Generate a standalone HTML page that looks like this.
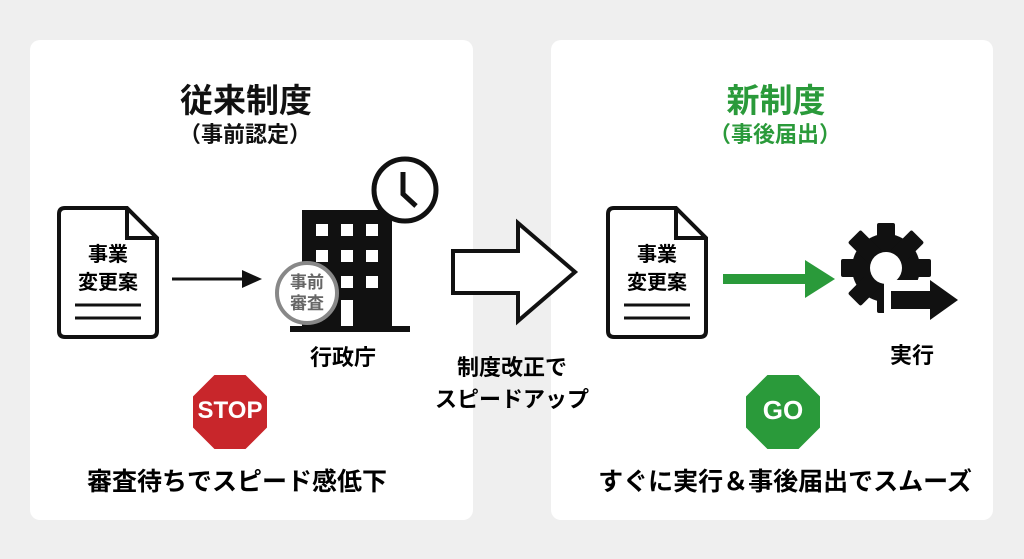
<!DOCTYPE html>
<html><head><meta charset="utf-8"><style>
body{margin:0;width:1024px;height:559px;background:#efefef;font-family:"Liberation Sans","Noto Sans CJK JP",sans-serif;overflow:hidden;position:relative}
.p{position:absolute;background:#fff;border-radius:10px;top:40px;height:480px}
.t{position:absolute;font-weight:bold;text-align:center;white-space:nowrap;transform:translateX(-50%)}
</style></head><body>
<div class="p" style="left:30px;width:443px"></div>
<div class="p" style="left:551px;width:442px"></div>
<div class="t" style="left:246px;top:74px;font-size:33px;color:#111">従来制度</div>
<div class="t" style="left:245px;top:117px;font-size:22px;color:#111">（事前認定）</div>
<div class="t" style="left:776px;top:74px;font-size:33px;color:#2a9a3a">新制度</div>
<div class="t" style="left:775px;top:117px;font-size:22px;color:#2a9a3a">（事後届出）</div>
<svg width="1024" height="559" style="position:absolute;left:0;top:0">
<defs>
<g id="doc"><path d="M0 6 Q0 0 6 0 H68 L98 30 V123 Q98 129 92 129 H6 Q0 129 0 123Z" fill="#fff" stroke="#111" stroke-width="4"/><path d="M68 0 V30 H98" fill="none" stroke="#111" stroke-width="4"/><line x1="16" y1="97" x2="82" y2="97" stroke="#111" stroke-width="3"/><line x1="16" y1="110" x2="82" y2="110" stroke="#111" stroke-width="3"/></g>
</defs>
<use href="#doc" x="59" y="208"/>
<use href="#doc" x="608" y="208"/>
<line x1="172" y1="279" x2="245" y2="279" stroke="#111" stroke-width="3"/>
<polygon points="242,270 262,279 242,288" fill="#111"/>
<rect x="302" y="210" width="90" height="120" fill="#111"/>
<rect x="290" y="326" width="120" height="6" fill="#111"/>
<g fill="#fff">
<rect x="316" y="224" width="12" height="12"/><rect x="341" y="224" width="12" height="12"/><rect x="366" y="224" width="12" height="12"/>
<rect x="316" y="250" width="12" height="12"/><rect x="341" y="250" width="12" height="12"/><rect x="366" y="250" width="12" height="12"/>
<rect x="341" y="276" width="12" height="12"/><rect x="366" y="276" width="12" height="12"/>
<rect x="341" y="300" width="12" height="26"/>
</g>
<circle cx="405" cy="190" r="31" fill="#fff" stroke="#111" stroke-width="5"/>
<polyline points="403,172 403,194 416,206" fill="none" stroke="#111" stroke-width="5"/>
<circle cx="307" cy="293" r="30" fill="#fff" stroke="#888" stroke-width="4"/>
<text x="307" y="288" font-size="17" font-weight="bold" fill="#666" text-anchor="middle" font-family="Noto Sans CJK JP">事前</text>
<text x="307" y="309" font-size="17" font-weight="bold" fill="#666" text-anchor="middle" font-family="Noto Sans CJK JP">審査</text>
<polygon points="453,251 518,251 518,223 575,272 518,321 518,293 453,293" fill="#fff" stroke="#111" stroke-width="4"/>
<line x1="723" y1="279" x2="808" y2="279" stroke="#2a9a3a" stroke-width="10"/>
<polygon points="805,260 835,279 805,298" fill="#2a9a3a"/>
<g transform="translate(886,268)">
<g fill="#111">
<circle r="34"/>
<rect x="-9" y="-45" width="18" height="90" rx="2"/>
<rect x="-9" y="-45" width="18" height="90" rx="2" transform="rotate(45)"/>
<rect x="-9" y="-45" width="18" height="90" rx="2" transform="rotate(90)"/>
<rect x="-9" y="-45" width="18" height="90" rx="2" transform="rotate(135)"/>
</g>
<circle r="16" fill="#fff"/>
<rect x="-2" y="12" width="50" height="40" fill="#fff"/>
</g>
<rect x="891" y="291" width="44" height="18" fill="#111"/>
<polygon points="930,280 958,300 930,320" fill="#111"/>
<polygon points="214,374 246,374 268,396 268,428 246,450 214,450 192,428 192,396" fill="#c8262b" stroke="#fff" stroke-width="2"/>
<polygon points="767,374 799,374 821,396 821,428 799,450 767,450 745,428 745,396" fill="#2a9a3a" stroke="#fff" stroke-width="2"/>
</svg>
<div class="t" style="left:108px;top:238px;font-size:20px">事業</div>
<div class="t" style="left:108px;top:266px;font-size:20px">変更案</div>
<div class="t" style="left:657px;top:238px;font-size:20px">事業</div>
<div class="t" style="left:657px;top:266px;font-size:20px">変更案</div>
<div class="t" style="left:343px;top:340px;font-size:22px">行政庁</div>
<div class="t" style="left:912px;top:338px;font-size:22px">実行</div>
<div class="t" style="left:512px;top:352px;font-size:22px;line-height:32px">制度改正で<br>スピードアップ</div>
<div class="t" style="left:230px;top:397px;font-size:24px;color:#fff">STOP</div>
<div class="t" style="left:783px;top:395px;font-size:26px;color:#fff">GO</div>
<div class="t" style="left:237px;top:462px;font-size:25px">審査待ちでスピード感低下</div>
<div class="t" style="left:785px;top:462px;font-size:25px">すぐに実行＆事後届出でスムーズ</div>
</body></html>
